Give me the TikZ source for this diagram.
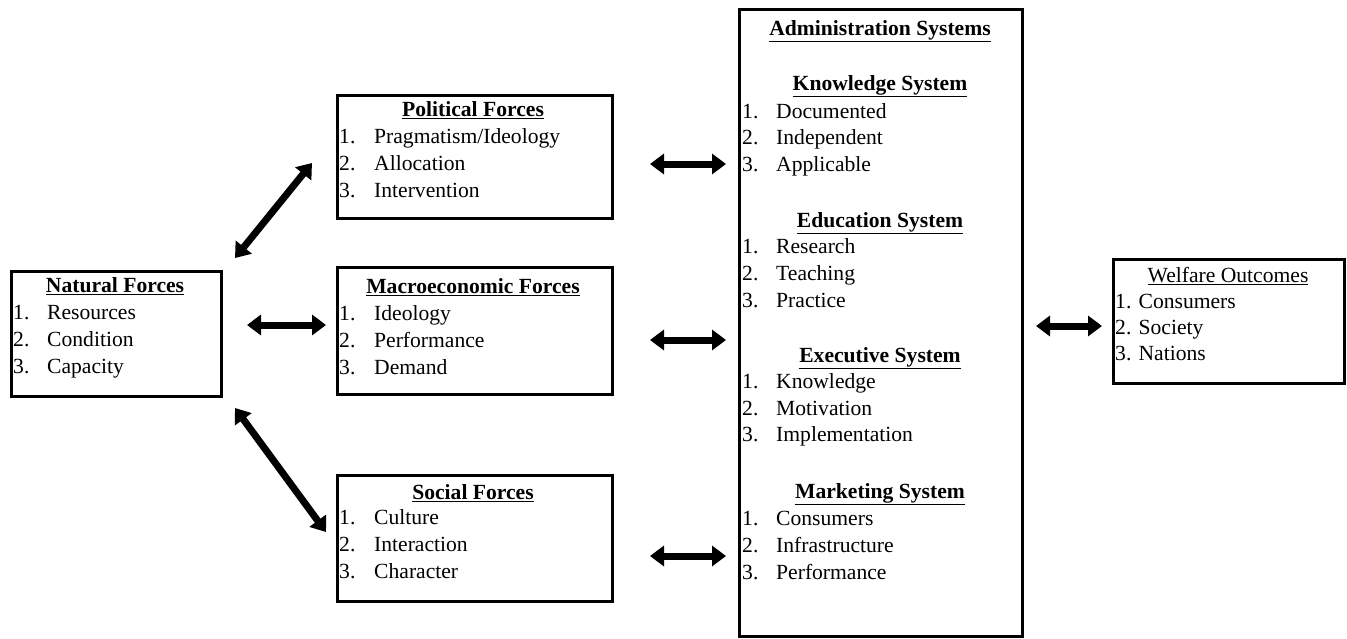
\documentclass[tikz,border=0pt]{standalone}
\usepackage{fontspec}
\setmainfont{Liberation Serif}
\usetikzlibrary{arrows.meta}
\begin{document}
\begin{tikzpicture}[x=1pt,y=-1pt,
  box/.style={draw, line width=2.6pt, inner sep=0pt, anchor=north west},
  ttl/.style={inner sep=0pt, anchor=mid, font=\fontsize{21.6}{26}\selectfont\bfseries},
  ttlr/.style={inner sep=0pt, anchor=mid, font=\fontsize{21.6}{26}\selectfont},
  itm/.style={inner sep=0pt, anchor=mid west, font=\fontsize{21.6}{26}\selectfont},
  dbl/.style={line width=7pt, {Triangle[length=14pt,width=20pt]}-{Triangle[length=14pt,width=20pt]}}
]
\useasboundingbox (0,0) rectangle (1347,638);

% boxes
\node[box, minimum width=210pt, minimum height=125pt] (nat) at (10,270) {};
\node[box, minimum width=275pt, minimum height=123pt] (pol) at (336,94) {};
\node[box, minimum width=275pt, minimum height=127pt] (mac) at (336,266) {};
\node[box, minimum width=275pt, minimum height=126pt] (soc) at (336,474) {};
\node[box, minimum width=283pt, minimum height=627pt] (adm) at (738,8) {};
\node[box, minimum width=231pt, minimum height=124pt] (wel) at (1112,258) {};

% Natural
\node[ttl] (natT) at (115,290) {\underline{Natural Forces}};
\node[itm] (n1a) at (13,317) {1.}; \node[itm] (n1b) at (47,317) {Resources};
\node[itm] (n2a) at (13,344) {2.}; \node[itm] (n2b) at (47,344) {Condition};
\node[itm] (n3a) at (13,371) {3.}; \node[itm] (n3b) at (47,371) {Capacity};

% Political
\node[ttl] (polT) at (473,114) {\underline{Political Forces}};
\node[itm] (p1a) at (339,141) {1.}; \node[itm] (p1b) at (374,141) {Pragmatism/Ideology};
\node[itm] (p2a) at (339,168) {2.}; \node[itm] (p2b) at (374,168) {Allocation};
\node[itm] (p3a) at (339,195) {3.}; \node[itm] (p3b) at (374,195) {Intervention};

% Macro
\node[ttl] (macT) at (473,291) {\underline{Macroeconomic Forces}};
\node[itm] (m1a) at (339,318) {1.}; \node[itm] (m1b) at (374,318) {Ideology};
\node[itm] (m2a) at (339,345) {2.}; \node[itm] (m2b) at (374,345) {Performance};
\node[itm] (m3a) at (339,372) {3.}; \node[itm] (m3b) at (374,372) {Demand};

% Social
\node[ttl] (socT) at (473,497) {\underline{Social Forces}};
\node[itm] (s1a) at (339,522) {1.}; \node[itm] (s1b) at (374,522) {Culture};
\node[itm] (s2a) at (339,549) {2.}; \node[itm] (s2b) at (374,549) {Interaction};
\node[itm] (s3a) at (339,576) {3.}; \node[itm] (s3b) at (374,576) {Character};

% Administration
\node[ttl] (admT) at (880,33) {\underline{Administration Systems}};
\node[ttl] (kT) at (880,88) {\underline{Knowledge System}};
\node[itm] (k1a) at (742,116) {1.}; \node[itm] (k1b) at (776,116) {Documented};
\node[itm] (k2a) at (742,142) {2.}; \node[itm] (k2b) at (776,142) {Independent};
\node[itm] (k3a) at (742,169) {3.}; \node[itm] (k3b) at (776,169) {Applicable};
\node[ttl] (eT) at (880,225) {\underline{Education System}};
\node[itm] (e1a) at (742,251) {1.}; \node[itm] (e1b) at (776,251) {Research};
\node[itm] (e2a) at (742,278) {2.}; \node[itm] (e2b) at (776,278) {Teaching};
\node[itm] (e3a) at (742,305) {3.}; \node[itm] (e3b) at (776,305) {Practice};
\node[ttl] (xT) at (880,360) {\underline{Executive System}};
\node[itm] (x1a) at (742,386) {1.}; \node[itm] (x1b) at (776,386) {Knowledge};
\node[itm] (x2a) at (742,413) {2.}; \node[itm] (x2b) at (776,413) {Motivation};
\node[itm] (x3a) at (742,439) {3.}; \node[itm] (x3b) at (776,439) {Implementation};
\node[ttl] (mkT) at (880,496) {\underline{Marketing System}};
\node[itm] (mk1a) at (742,523) {1.}; \node[itm] (mk1b) at (776,523) {Consumers};
\node[itm] (mk2a) at (742,550) {2.}; \node[itm] (mk2b) at (776,550) {Infrastructure};
\node[itm] (mk3a) at (742,577) {3.}; \node[itm] (mk3b) at (776,577) {Performance};

% Welfare
\node[ttlr] (welT) at (1228,280) {\underline{Welfare Outcomes}};
\node[itm] (w1) at (1115,306) {1. Consumers};
\node[itm] (w2) at (1115,332) {2. Society};
\node[itm] (w3) at (1115,358) {3. Nations};

% arrow end points
\coordinate (a1s) at (235,258); \coordinate (a1e) at (312,163);
\coordinate (a2s) at (247,325); \coordinate (a2e) at (326,325);
\coordinate (a3s) at (235,408); \coordinate (a3e) at (326,532);
\coordinate (a4s) at (650,164); \coordinate (a4e) at (726,164);
\coordinate (a5s) at (650,340); \coordinate (a5e) at (726,340);
\coordinate (a6s) at (650,556); \coordinate (a6e) at (726,556);
\coordinate (a7s) at (1036,326); \coordinate (a7e) at (1102,326);

\draw[dbl] (a1s) -- (a1e);
\draw[dbl] (a2s) -- (a2e);
\draw[dbl] (a3s) -- (a3e);
\draw[dbl] (a4s) -- (a4e);
\draw[dbl] (a5s) -- (a5e);
\draw[dbl] (a6s) -- (a6e);
\draw[dbl] (a7s) -- (a7e);
\end{tikzpicture}
\end{document}
